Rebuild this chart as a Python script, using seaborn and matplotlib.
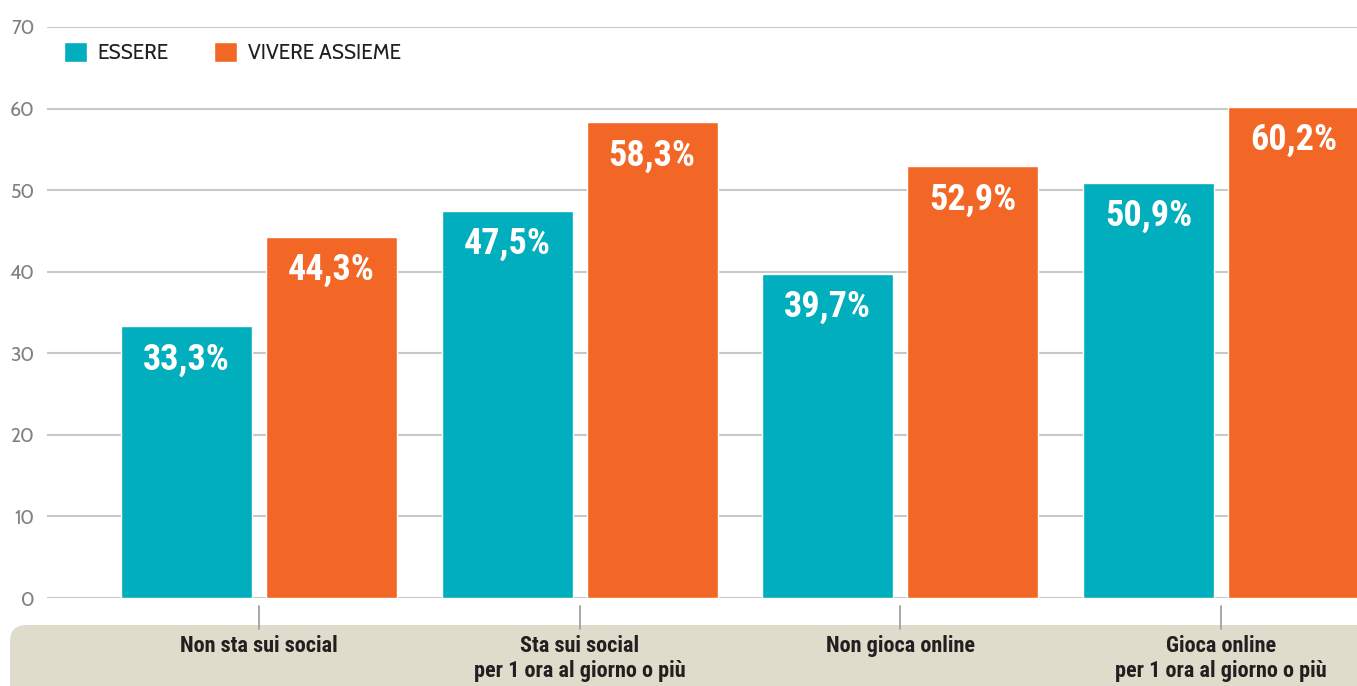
import matplotlib
matplotlib.use("Agg")
import matplotlib.pyplot as plt
from matplotlib import font_manager
from matplotlib.patches import FancyBboxPatch
from matplotlib.transforms import blended_transform_factory
import seaborn as sns
import pandas as pd

# Data
categories = ["Non sta sui social",
              "Sta sui social\nper 1 ora al giorno o più",
              "Non gioca online",
              "Gioca online\nper 1 ora al giorno o più"]
series_names = ["ESSERE", "VIVERE ASSIEME"]
essere = [33.3, 47.5, 39.7, 50.9]
vivere_assieme = [44.3, 58.3, 52.9, 60.2]
y_ticks = [0, 10, 20, 30, 40, 50, 60, 70]

colors = {"ESSERE": "#00AEBD", "VIVERE ASSIEME": "#F26726"}

df = pd.DataFrame({
    "categoria": categories * 2,
    "serie": [series_names[0]] * 4 + [series_names[1]] * 4,
    "valore": essere + vivere_assieme,
})


def available(cands):
    installed = {f.name for f in font_manager.fontManager.ttflist}
    return [c for c in cands if c in installed] + ["DejaVu Sans"]


narrow = available(["Roboto Condensed", "Barlow Condensed", "Archivo Narrow",
                    "PT Sans Narrow", "Liberation Sans Narrow"])
humanist = available(["Cabin", "Lato"])

sns.set_theme(style="white")
plt.rcParams["font.family"] = humanist

W, H = 1357, 686
fig = plt.figure(figsize=(W / 100, H / 100), dpi=100)
ax_left, ax_right, ax_top, ax_bottom = 47, 1357, 27, 598
ax = fig.add_axes([ax_left / W, (H - ax_bottom) / H,
                   (ax_right - ax_left) / W, (ax_bottom - ax_top) / H])

# Beige category band under the plot
band = FancyBboxPatch((10 / W, -0.05), (W + 20) / W, (H - 625) / H + 0.05,
                      boxstyle="round,pad=0,rounding_size=0.012",
                      transform=fig.transFigure, facecolor="#dfdccb",
                      edgecolor="none", zorder=-1, mutation_aspect=W / H)
fig.patches.append(band)

sns.barplot(data=df, x="categoria", y="valore", hue="serie",
            palette=colors, width=0.904, gap=0.097, ax=ax,
            saturation=1, zorder=3, errorbar=None)

ax.set_ylim(0, 70)
ax.set_xlim(-0.661, 3.424)
ax.set_yticks(y_ticks)
ax.yaxis.grid(True, color="#c8c8c8", linewidth=1.5, zorder=0)
ax.set_axisbelow(True)
for s in ax.spines.values():
    s.set_visible(False)
ax.tick_params(axis="y", length=0, pad=9, labelsize=14, labelcolor="#808080")
ax.tick_params(axis="x", length=0, labelbottom=False)
ax.set_xlabel("")
ax.set_ylabel("")

# Value labels inside the bars
for container, vals in zip(ax.containers, [essere, vivere_assieme]):
    for patch, v in zip(container.patches, vals):
        xc = patch.get_x() + patch.get_width() / 2
        ax.annotate(f"{v:.1f}%".replace(".", ","), xy=(xc, v),
                    xytext=(0, -43), textcoords="offset pixels",
                    ha="center", va="baseline", color="white",
                    fontsize=26, fontweight="bold", family=narrow, zorder=5)

# Category tick marks and labels below the axis
trans = blended_transform_factory(ax.transData, fig.transFigure)
for i, cat in enumerate(categories):
    ax.plot([i, i], [(H - 606) / H, (H - 629) / H], transform=trans,
            color="#a0a0a0", linewidth=1.3, clip_on=False)
    fig.text(0, 0, cat, transform=trans, ha="center", va="top",
             fontsize=16, fontweight="bold", family=narrow, color="#231f20",
             linespacing=1.15).set_position((i, (H - 635) / H))

# Legend
handles, labels = ax.get_legend_handles_labels()
ax.legend(handles, labels, loc="center left",
          bbox_to_anchor=((64 - ax_left) / (ax_right - ax_left),
                          (ax_bottom - 53) / (ax_bottom - ax_top)),
          frameon=False, ncol=2, fontsize=15, handlelength=1.1,
          handleheight=1.1, handletextpad=0.5, columnspacing=2.2,
          borderpad=0, borderaxespad=0, labelcolor="#231f20")

fig.savefig("out.png", dpi=100)
